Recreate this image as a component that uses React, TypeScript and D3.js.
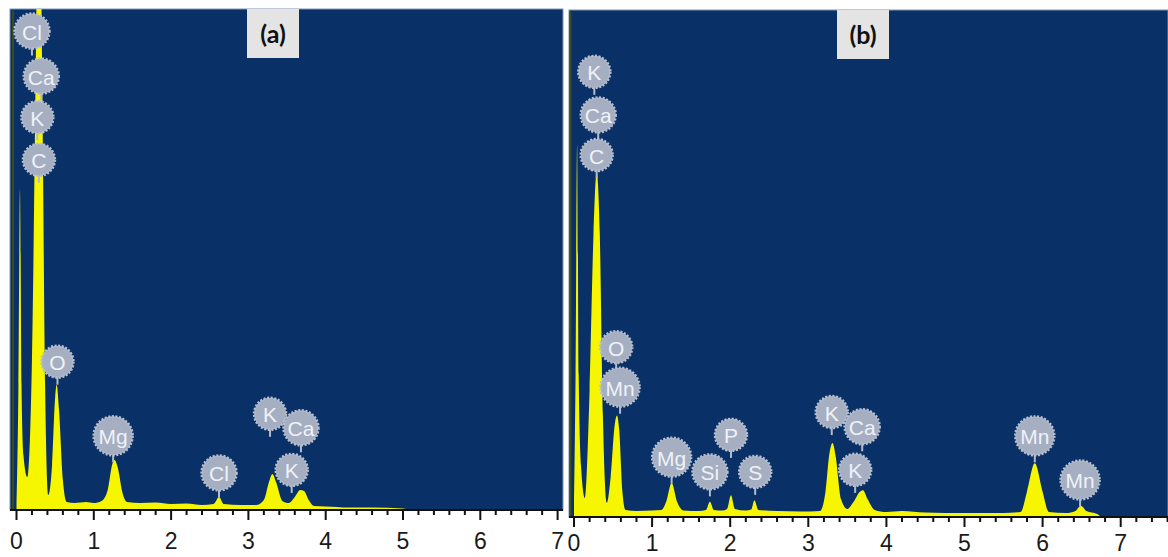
import React from 'react';
import * as d3 from 'd3';

// spectra: [energy keV, counts (0-1000 = full panel height)]
const spectrumA: [number, number][] = [
  [0.0, 10], [0.025, 250], [0.045, 640], [0.065, 250], [0.09, 110], [0.14, 66],
  [0.2, 300], [0.25, 900], [0.29, 1400], [0.33, 900], [0.37, 250], [0.41, 30],
  [0.46, 90], [0.5, 225], [0.52, 250], [0.55, 200], [0.6, 60], [0.65, 16],
  [0.75, 14], [0.9, 16], [1.0, 14], [1.1, 18], [1.18, 40], [1.24, 92], [1.27, 100],
  [1.31, 85], [1.37, 35], [1.43, 16], [1.6, 14], [1.8, 15], [2.0, 12], [2.2, 13],
  [2.4, 10], [2.55, 12], [2.62, 26], [2.68, 12], [2.9, 10], [3.1, 10], [3.2, 20],
  [3.27, 58], [3.31, 72], [3.36, 55], [3.44, 18], [3.52, 14], [3.6, 26], [3.67, 40],
  [3.72, 38], [3.78, 20], [3.85, 8], [4.0, 7], [4.3, 5], [4.6, 5], [5.0, 3],
  [5.1, 0], [7.2, 0],
];

const spectrumB: [number, number][] = [
  [0.0, 10], [0.02, 280], [0.04, 734], [0.06, 280], [0.09, 100], [0.14, 37],
  [0.2, 250], [0.25, 560], [0.29, 680], [0.33, 560], [0.37, 200], [0.42, 28],
  [0.47, 80], [0.52, 180], [0.55, 200], [0.58, 170], [0.62, 50], [0.66, 14],
  [0.8, 12], [1.0, 13], [1.12, 14], [1.18, 30], [1.25, 67], [1.32, 30], [1.4, 13],
  [1.6, 12], [1.69, 14], [1.74, 30], [1.79, 14], [1.9, 13], [1.96, 16], [2.01, 43],
  [2.06, 16], [2.2, 13], [2.27, 15], [2.31, 33], [2.36, 14], [2.6, 12], [2.9, 11],
  [3.15, 12], [3.22, 50], [3.27, 125], [3.31, 146], [3.35, 120], [3.42, 35],
  [3.5, 16], [3.58, 30], [3.66, 50], [3.7, 53], [3.76, 35], [3.85, 14], [4.0, 10],
  [4.2, 12], [4.5, 9], [5.0, 8], [5.5, 8], [5.72, 10], [5.8, 50], [5.9, 106],
  [6.0, 50], [6.08, 10], [6.3, 8], [6.42, 12], [6.49, 22], [6.56, 12], [6.7, 6],
  [6.76, 0], [7.7, 0],
];

// element labels: name, energy of bubble centre, count level of bubble centre
const labelsA: [string, number, number][] = [
  ['Cl', 0.2, 956], ['Ca', 0.32, 866], ['K', 0.27, 784], ['C', 0.29, 699],
  ['O', 0.53, 296], ['Mg', 1.25, 148], ['Cl', 2.62, 74], ['K', 3.28, 192],
  ['Ca', 3.68, 164], ['K', 3.56, 80],
];

const labelsB: [string, number, number][] = [
  ['K', 0.26, 878], ['Ca', 0.31, 793], ['C', 0.29, 714], ['O', 0.54, 335],
  ['Mn', 0.59, 256], ['Mg', 1.25, 118], ['Si', 1.74, 89], ['P', 2.01, 162],
  ['S', 2.32, 89], ['K', 3.3, 207], ['Ca', 3.69, 178], ['K', 3.6, 93],
  ['Mn', 5.9, 160], ['Mn', 6.48, 73],
];

const tickLabels = [0, 1, 2, 3, 4, 5, 6, 7];

type PanelProps = {
  id: string;
  tag: string;
  spectrum: [number, number][];
  labels: [string, number, number][];
  left: number;
  right: number;
  top: number;
  axisY: number;
  x0: number;
  x7: number;
  labelY: number;
  tagX: number;
};

const bubbleR = (el: string) => (el.length === 1 ? 16 : el[0] === 'M' ? 19.5 : 17.5);

function Panel(p: PanelProps) {
  const x = d3.scaleLinear().domain([0, 7]).range([p.x0, p.x7]);
  const y = d3.scaleLinear().domain([0, 1000]).range([p.axisY, p.top]);
  const maxE = x.invert(p.right);
  const minor = d3.range(0, maxE, 0.2);

  const area = d3.area<[number, number]>()
    .x(d => x(d[0]))
    .y0(p.axisY)
    .y1(d => y(d[1]))
    .curve(d3.curveMonotoneX);

  return (
    <g>
      <defs>
        <clipPath id={`clip-${p.id}`}>
          <rect x={p.left} y={p.top} width={p.right - p.left} height={p.axisY - p.top} />
        </clipPath>
      </defs>
      <rect x={p.left} y={p.top} width={p.right - p.left} height={p.axisY - p.top}
        fill="#0a3167" stroke="#7f95b8" strokeWidth={1} />
      <path d={area(p.spectrum) || ''} fill="#f6f600" clipPath={`url(#clip-${p.id})`} />
      <line x1={x(-0.045)} x2={x(-0.045)} y1={p.top + 2} y2={p.axisY} stroke="#3d4a1a" strokeWidth={2} />
      {/* tag box */}
      <rect x={p.tagX - 26} y={p.top} width={52} height={49} fill="#e4e4e4" />
      <text x={p.tagX} y={p.top + 24} textAnchor="middle" dominantBaseline="central"
        fontFamily="Lato, 'Open Sans', sans-serif" fontWeight={700} fontSize={25} fill="#111">{p.tag}</text>
      {/* bubbles */}
      <g clipPath={`url(#clip-${p.id})`}>
        {p.labels.map(([el, e, c], i) => {
          const r = bubbleR(el);
          return (
            <g key={i}>
              <line x1={x(e)} x2={x(e)} y1={y(c) + r - 2} y2={y(c) + r + 7} stroke="#b4bccb" strokeWidth={2} />
              <circle cx={x(e)} cy={y(c)} r={r} fill="#a6afc1" stroke="#b6bece" strokeWidth={2.5}
                strokeDasharray="2 1.6" />
              <text x={x(e)} y={y(c) + 1} textAnchor="middle" dominantBaseline="central"
                fontFamily="'Liberation Sans Narrow', 'Liberation Sans', sans-serif" fontSize={21}
                fill="#eef2f8">{el}</text>
            </g>
          );
        })}
      </g>
      {/* x axis */}
      <line x1={p.left} x2={p.right} y1={p.axisY} y2={p.axisY} stroke="#111" strokeWidth={2} />
      {minor.map((e, i) => {
        const major = Math.abs(e - Math.round(e)) < 1e-6;
        return (
          <line key={i} x1={x(e)} x2={x(e)} y1={p.axisY} y2={p.axisY + (major ? 10 : 5)}
            stroke="#111" strokeWidth={2} />
        );
      })}
      {tickLabels.map(t => (
        <text key={t} x={x(t)} y={p.labelY} textAnchor="middle"
          fontFamily="'Liberation Sans', Arial, sans-serif" fontSize={23} fill="#1a1a1a">{t}</text>
      ))}
    </g>
  );
}

export default function App() {
  return (
    <div style={{ position: 'absolute', left: 0, top: 0, background: '#fff' }}>
      <svg width={1168} height={557} style={{ display: 'block' }}>
        <rect width={1168} height={557} fill="#fff" />
        <Panel id="a" tag="(a)" spectrum={spectrumA} labels={labelsA}
          left={10} right={563} top={9} axisY={510} x0={16.5} x7={557.6} labelY={549} tagX={273} />
        <Panel id="b" tag="(b)" spectrum={spectrumB} labels={labelsB}
          left={569} right={1168} top={10} axisY={517} x0={574} x7={1120.7} labelY={551} tagX={863} />
      </svg>
    </div>
  );
}
